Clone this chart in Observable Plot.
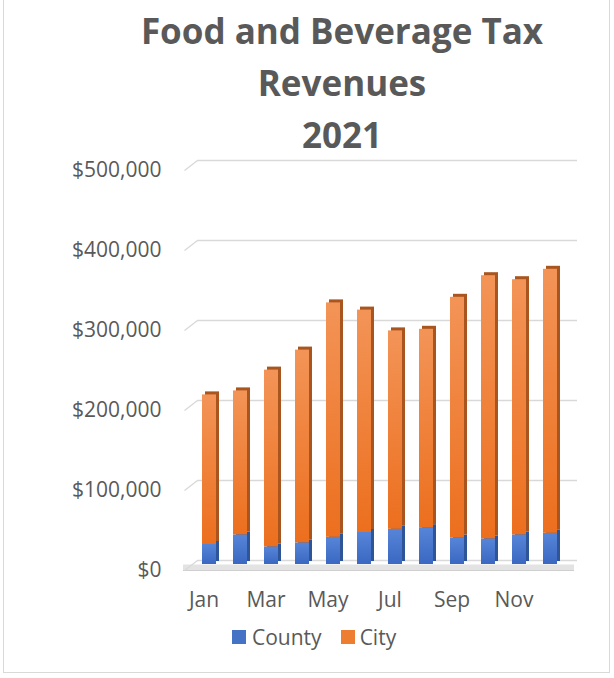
<!DOCTYPE html>
<html><head><meta charset="utf-8">
<script src="https://cdn.jsdelivr.net/npm/d3@7"></script>
<script src="https://cdn.jsdelivr.net/npm/@observablehq/plot@0.6"></script>
<style>
html,body{margin:0;padding:0;background:#fff;}
#wrap{position:relative;width:614px;height:678px;overflow:hidden;font-family:"Open Sans",sans-serif;color:#595959;}
#frame{position:absolute;left:3px;top:-2px;width:607px;height:675px;border:1.3px solid #d9d9d9;box-sizing:border-box;}
#title{position:absolute;left:70px;top:5px;width:544px;text-align:center;font-weight:bold;font-size:35px;line-height:52px;}
#chart{position:absolute;left:0;top:150px;}
#legend{position:absolute;left:232px;top:622px;display:flex;align-items:center;font-size:21px;height:30px;}
.sw{display:inline-block;width:14px;height:14px;}
</style></head>
<body><div id="wrap"><div id="frame"></div>
<div id="title">Food and Beverage Tax<br>Revenues<br>2021</div>
<div id="chart"></div>
<div id="legend"><span class="sw" style="background:#4472C4;margin-right:6px"></span><span>County</span><span class="sw" style="background:#ED7D31;margin-left:19px;margin-right:5px"></span><span>City</span></div>
</div>
<script>
const months = ["Jan","Feb","Mar","Apr","May","Jun","Jul","Aug","Sep","Oct","Nov","Dec"];
const series = ["County","City"];
const county = [25000, 37000, 22000, 27000, 34000, 40000, 44000, 46000, 33000, 32000, 37000, 39000];
const city = [187000, 180000, 221000, 241000, 293000, 278000, 248000, 248000, 301000, 329000, 319000, 330000];
const yTicks = [0, 100000, 200000, 300000, 400000, 500000];

const data = [];
months.forEach((m, i) => {
  data.push({month: m, series: "County", value: county[i]});
  data.push({month: m, series: "City", value: city[i]});
});

const frontFill = {County: "url(#gBlue)", City: "url(#gOrange)"};
const sideFill = {County: "#2E5597", City: "#A9551F"};

const diag = {draw(ctx, size) { ctx.moveTo(-6.5, 5); ctx.lineTo(6.5, -5); }};

const chart = Plot.plot({
  width: 614,
  height: 470,
  marginTop: 14,
  marginBottom: 56,
  marginLeft: 188,
  marginRight: 44,
  style: {fontFamily: "Open Sans", fontSize: "21px", color: "#595959", background: "transparent", overflow: "visible"},
  x: {domain: months, paddingInner: 0.56, paddingOuter: 0.3, label: null},
  y: {domain: [0, 500000], label: null},
  marks: [
    Plot.ruleY([0], {stroke: "#e3e3e3", strokeWidth: 6, dy: 3, insetLeft: -5, insetRight: -4}),
    Plot.ruleY([0], {stroke: "#cfcfcf", strokeWidth: 1.2, dy: 6, insetLeft: -5, insetRight: -4}),
    Plot.ruleY(yTicks, {stroke: "#d9d9d9", strokeWidth: 1.4, dy: -4, insetLeft: 9, insetRight: -7}),
    Plot.dot(yTicks, {y: d => d, frameAnchor: "left", dx: 2.5, dy: 1, symbol: diag, r: 5, stroke: "#d9d9d9", strokeWidth: 1.4, fill: "none"}),
    Plot.barY(data, {x: "month", y: "value", z: "series", fill: {value: d => sideFill[d.series], scale: null}, dx: 3, dy: -3}),
    Plot.barY(data, {x: "month", y: "value", z: "series", fill: {value: d => frontFill[d.series], scale: null}}),
    Plot.axisY({ticks: yTicks, tickSize: 0, tickPadding: 27, dy: 5.5, tickFormat: d => "$" + d3.format(",")(d), fill: "#595959"}),
    Plot.axisX({tickSize: 0, tickPadding: 28, dx: -5.5, tickFormat: (d) => months.indexOf(d) % 2 === 0 ? d : "", fill: "#595959"})
  ]
});

d3.select(chart).insert("defs", ":first-child").html(`
  <linearGradient id="gOrange" x1="0" y1="0" x2="0" y2="1">
    <stop offset="0" stop-color="#F39457"/>
    <stop offset="1" stop-color="#EC6F1E"/>
  </linearGradient>
  <linearGradient id="gBlue" x1="0" y1="0" x2="0" y2="1">
    <stop offset="0" stop-color="#5685D8"/>
    <stop offset="1" stop-color="#3A68C2"/>
  </linearGradient>`);

document.getElementById("chart").appendChild(chart);
</script>
</body></html>
